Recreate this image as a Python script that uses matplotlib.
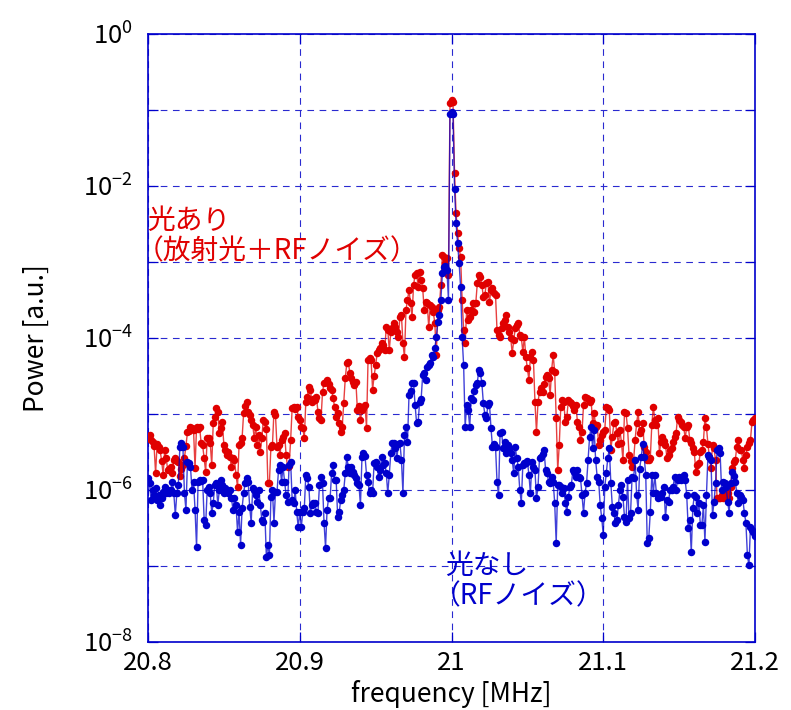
import numpy as np
import matplotlib
matplotlib.use("Agg")
import matplotlib.pyplot as plt
from matplotlib.ticker import FixedLocator, FuncFormatter, NullLocator

# spectrum analyser sweep: 401 points, 20.8 - 21.2 MHz
freq_mhz = np.round(np.linspace(20.8, 21.2, 401), 3)

# log10(power), 10 points per line
red_log10 = [
    -5.32, -5.28, -5.34, -5.37, -5.42, -5.78, -5.40, -5.44, -5.48, -5.62,
    -5.80, -5.47, -5.58, -5.74, -5.72, -5.70, -5.78, -5.60, -5.58, -5.62,
    -5.63, -5.82, -5.72, -5.67, -5.58, -5.42, -5.24, -5.22, -5.17, -5.18,
    -5.21, -5.71, -5.17, -5.20, -5.17, -5.38, -5.41, -5.58, -5.76, -5.32,
    -5.32, -5.38, -5.67, -5.12, -5.04, -4.92, -4.98, -5.25, -5.18, -5.11,
    -5.41, -5.48, -5.54, -5.50, -5.57, -5.70, -5.58, -5.61, -5.80, -5.96,
    -5.41, -5.38, -5.32, -4.99, -4.90, -4.84, -4.97, -5.01, -5.08, -5.14,
    -5.32, -5.17, -5.41, -5.28, -5.50, -5.32, -5.08, -5.11, -5.20, -5.91,
    -5.91, -5.43, -5.41, -4.97, -5.01, -5.43, -5.41, -5.54, -5.34, -5.30,
    -5.25, -5.54, -5.70, -5.68, -5.34, -4.92, -4.91, -4.93, -4.91, -5.04,
    -5.08, -5.17, -5.18, -5.32, -4.84, -4.78, -4.64, -4.68, -4.84, -4.80,
    -4.82, -4.78, -4.97, -5.05, -5.08, -4.71, -4.59, -4.58, -4.55, -4.60,
    -4.66, -4.68, -4.79, -4.91, -5.04, -4.99, -5.12, -5.24, -5.17, -4.85,
    -4.53, -4.33, -4.32, -4.46, -4.53, -4.58, -4.62, -4.58, -4.95, -4.90,
    -5.08, -4.95, -4.92, -4.88, -5.18, -4.29, -4.26, -4.29, -4.68, -4.50,
    -4.36, -4.20, -4.16, -4.13, -4.07, -4.09, -4.16, -3.86, -3.89, -4.16,
    -3.92, -3.87, -3.80, -3.85, -3.92, -3.99, -3.72, -3.70, -4.07, -4.25,
    -3.63, -3.50, -3.37, -3.54, -3.72, -3.30, -3.17, -3.14, -3.33, -3.13,
    -3.24, -3.34, -3.63, -3.53, -3.54, -3.86, -3.57, -3.59, -3.66, -3.80,
    -4.22, -3.63, -3.59, -3.30, -2.91, -2.93, -3.01, -2.95, -3.17, -0.91,
    -0.87,
    -0.90, -1.83, -2.36, -2.62, -2.82, -2.93, -3.50, -3.89, -4.07, -3.63,
    -3.76, -3.72, -3.63, -3.54, -3.66, -3.54, -3.28, -3.17, -3.20, -3.30,
    -3.46, -3.43, -3.28, -3.26, -3.53, -3.37, -3.34, -3.41, -3.43, -3.90,
    -3.96, -3.99, -3.87, -3.80, -3.76, -3.70, -3.86, -3.92, -4.00, -4.20,
    -4.03, -3.87, -3.83, -3.80, -3.96, -3.99, -4.18, -3.99, -4.25, -4.40,
    -4.55, -4.25, -4.18, -4.29, -4.84, -5.24, -4.84, -4.71, -4.66, -4.71,
    -4.60, -4.51, -4.49, -4.53, -4.75, -4.42, -4.22, -4.45, -5.05, -5.74,
    -5.41, -4.91, -4.82, -4.84, -5.11, -5.04, -4.82, -4.84, -4.86, -4.90,
    -4.95, -4.88, -5.11, -5.17, -5.34, -5.24, -4.88, -4.78, -4.79, -4.80,
    -4.84, -4.82, -5.12, -4.99, -5.17, -5.14, -5.41, -5.34, -5.28, -5.24,
    -5.21, -4.91, -4.92, -4.95, -5.47, -5.30, -5.12, -5.11, -5.25, -5.40,
    -5.21, -5.38, -5.61, -4.97, -4.99, -5.18, -5.54, -5.62, -5.70, -5.61,
    -5.34, -5.12, -4.97, -5.25, -5.21, -5.12, -5.43, -5.50, -5.61, -5.60,
    -5.58, -5.14, -4.91, -5.08, -5.14, -5.05, -5.51, -5.37, -5.30, -5.35,
    -5.41, -5.58, -5.54, -5.47, -5.45, -5.37, -5.30, -5.25, -5.04, -5.08,
    -5.11, -5.14, -5.17, -5.32, -5.17, -5.14, -5.34, -5.38, -5.45, -5.50,
    -5.76, -5.67, -5.64, -5.50, -5.47, -5.37, -5.05, -5.17, -5.40, -5.57,
    -5.71, -5.41, -5.45, -5.61, -6.11, -6.10, -6.11, -6.07, -6.11, -6.04,
    -6.00, -6.04, -6.11, -5.96, -5.71, -5.63, -5.61, -5.43, -5.34, -5.47,
    -5.47, -5.61, -5.71, -5.54, -5.43, -5.38, -5.34, -5.11, -5.08, -5.05,
]

blue_log10 = [
    -5.84, -5.91, -6.13, -6.00, -6.07, -5.97, -6.13, -6.07, -6.20, -6.10,
    -6.03, -5.96, -6.04, -6.00, -6.04, -6.00, -5.89, -6.04, -6.33, -6.04,
    -5.93, -5.43, -5.38, -5.43, -6.04, -6.26, -5.63, -5.64, -5.70, -6.00,
    -5.89, -6.26, -6.75, -5.89, -5.87, -5.88, -5.87, -6.39, -6.46, -6.00,
    -5.96, -6.04, -6.30, -6.17, -5.93, -5.91, -6.20, -6.00, -5.87, -5.93,
    -6.04, -5.97, -6.00, -6.04, -6.00, -6.11, -6.26, -6.11, -6.20, -6.55,
    -6.29, -6.72, -6.24, -6.04, -5.91, -5.84, -5.89, -6.22, -6.43, -5.97,
    -6.00, -6.07, -6.16, -6.00, -6.20, -6.39, -6.42, -6.30, -6.88, -6.72,
    -6.86, -6.09, -6.00, -6.43, -6.03, -6.03, -5.74, -5.67, -5.89, -5.70,
    -5.89, -6.07, -6.16, -5.67, -5.63, -6.13, -6.17, -6.00, -6.29, -6.49,
    -6.29, -6.49, -6.29, -6.24, -5.80, -5.84, -5.96, -6.30, -6.20, -6.17,
    -6.17, -6.29, -6.30, -5.93, -5.83, -5.91, -6.43, -6.76, -6.26, -6.11,
    -6.11, -5.78, -5.67, -5.87, -5.87, -6.36, -6.29, -6.13, -6.07, -6.00,
    -5.78, -5.57, -5.70, -5.78, -5.70, -5.76, -5.80, -5.84, -5.91, -5.93,
    -6.20, -5.57, -5.51, -5.55, -5.80, -5.89, -6.04, -6.00, -6.04, -5.64,
    -5.63, -5.70, -5.83, -5.74, -5.57, -5.67, -5.64, -5.78, -6.04, -5.80,
    -5.51, -5.38, -5.38, -5.45, -5.58, -5.40, -5.38, -5.60, -6.04, -5.28,
    -5.17, -5.37, -4.75, -4.70, -4.59, -4.59, -4.88, -5.12, -5.11, -4.84,
    -4.80, -4.49, -4.46, -4.55, -4.38, -4.36, -4.33, -4.22, -4.25, -4.13,
    -3.99, -3.79, -3.70, -3.50, -3.15, -3.07, -3.05, -3.11, -3.50, -1.05,
    -1.03,
    -1.05, -2.04, -2.49, -2.75, -3.01, -3.33, -3.99, -4.36, -5.17, -4.88,
    -4.95, -5.17, -4.79, -4.82, -4.70, -4.62, -4.59, -4.42, -4.46, -4.59,
    -4.86, -5.01, -5.05, -4.88, -4.86, -5.18, -5.43, -5.40, -5.43, -5.89,
    -6.07, -5.25, -5.24, -5.45, -5.37, -5.51, -5.41, -5.45, -5.51, -5.60,
    -5.78, -5.43, -5.58, -5.70, -6.00, -6.17, -5.67, -5.64, -5.64, -5.62,
    -5.80, -6.04, -5.63, -5.70, -5.74, -6.11, -5.96, -5.58, -5.57, -5.52,
    -5.47, -5.74, -5.78, -5.89, -5.91, -5.83, -5.89, -6.17, -6.70, -5.93,
    -5.93, -5.96, -6.04, -5.97, -6.17, -6.29, -6.09, -5.96, -5.93, -5.74,
    -5.76, -5.83, -5.74, -5.83, -5.84, -6.07, -6.30, -6.04, -5.91, -5.60,
    -5.30, -5.17, -5.45, -5.21, -5.61, -5.83, -5.89, -6.20, -6.37, -6.59,
    -5.96, -5.78, -5.58, -5.45, -5.91, -6.22, -6.30, -6.43, -6.39, -6.20,
    -6.00, -5.93, -6.09, -6.36, -6.42, -5.87, -6.37, -6.30, -5.83, -5.84,
    -5.61, -6.07, -6.26, -5.72, -5.57, -5.40, -5.57, -5.80, -6.70, -6.63,
    -6.29, -5.80, -6.04, -5.80, -6.04, -6.11, -6.07, -6.09, -6.04, -5.96,
    -6.36, -6.13, -6.16, -6.00, -6.00, -5.96, -5.83, -6.00, -5.87, -5.83,
    -5.87, -5.83, -5.80, -5.87, -6.07, -6.50, -6.39, -6.82, -6.24, -6.07,
    -6.09, -6.30, -6.17, -6.46, -6.46, -6.20, -6.68, -6.07, -5.54, -5.57,
    -5.61, -6.33, -6.16, -5.91, -5.47, -5.45, -5.51, -6.00, -5.89, -5.91,
    -5.96, -6.16, -6.30, -5.91, -5.76, -5.82, -5.89, -6.04, -6.17, -6.07,
    -6.09, -6.13, -6.30, -6.43, -6.86, -6.99, -6.49, -6.52, -6.55, -6.60,
]

x_ticks = [20.8, 20.9, 21.0, 21.1, 21.2]
y_decades = [-8, -7, -6, -5, -4, -3, -2, -1, 0]

red_label = ["光あり", "（放射光＋RFノイズ）"]
blue_label = ["光なし", "（RFノイズ）"]

RED = "#e00000"
BLUE = "#0000cc"

plt.rcParams['font.family'] = ['Noto Sans CJK JP', 'DejaVu Sans']
plt.rcParams['mathtext.fontset'] = 'custom'
plt.rcParams['mathtext.rm'] = 'Noto Sans CJK JP'

red_power = 10.0 ** np.array(red_log10)
blue_power = 10.0 ** np.array(blue_log10)

W, H = 791, 710
fig = plt.figure(figsize=(W / 100, H / 100), dpi=100)
# axes box in pixels: left 148, right 755, top 34, bottom 642
ax = fig.add_axes([148 / W, 1 - 642 / H, 607 / W, 608 / H])


def ax_x(px):
    return (px - 148) / 607


def ax_y(py):
    return (642 - py) / 608


ax.plot(freq_mhz, red_power, color=RED, lw=1.0, alpha=0.75, zorder=3)
ax.plot(freq_mhz, red_power, 'o', color=RED, ms=5.4, mew=0, zorder=3)
ax.plot(freq_mhz, blue_power, color=BLUE, lw=1.0, alpha=0.75, zorder=4)
ax.plot(freq_mhz, blue_power, 'o', color=BLUE, ms=5.4, mew=0, zorder=4)

ax.set_yscale('log')
ax.set_xlim(20.8, 21.2)
ax.set_ylim(1e-8, 1)

ax.xaxis.set_major_locator(FixedLocator(x_ticks))
ax.xaxis.set_major_formatter(FuncFormatter(lambda v, pos: "%g" % v))
ax.yaxis.set_major_locator(FixedLocator([10.0 ** e for e in y_decades]))
ax.yaxis.set_minor_locator(NullLocator())


def y_fmt(v, pos):
    e = int(round(np.log10(v)))
    if e % 2:
        return ""
    return r"$\mathregular{10^{%d}}$" % e


ax.yaxis.set_major_formatter(FuncFormatter(y_fmt))

ax.grid(True, color="#2a2ad0", ls=(0, (6, 5)), lw=0.8)
ax.set_axisbelow(True)

ax.tick_params(which='major', direction='in', length=7, width=0.9,
               color=BLUE, top=True, right=True, labelsize=18.5)
ax.tick_params(axis='x', pad=6)
ax.tick_params(axis='y', pad=11)
for s in ax.spines.values():
    s.set_color(BLUE)
    s.set_linewidth(1.2)

ax.set_ylabel("Power [a.u.]", fontsize=19)
ax.yaxis.set_label_coords(ax_x(50), 0.5)
ax.set_xlabel("frequency [MHz]", fontsize=19)
ax.xaxis.set_label_coords(0.5, ax_y(680))

ax.text(ax_x(147), ax_y(229), red_label[0], color=RED, fontsize=20,
        transform=ax.transAxes, va='baseline', ha='left')
ax.text(ax_x(136), ax_y(259), red_label[1], color=RED, fontsize=20,
        transform=ax.transAxes, va='baseline', ha='left')
ax.text(ax_x(445), ax_y(574), blue_label[0], color=BLUE, fontsize=20,
        transform=ax.transAxes, va='baseline', ha='left')
ax.text(ax_x(433), ax_y(604), blue_label[1], color=BLUE, fontsize=20,
        transform=ax.transAxes, va='baseline', ha='left')

fig.savefig("out.png", dpi=100)
